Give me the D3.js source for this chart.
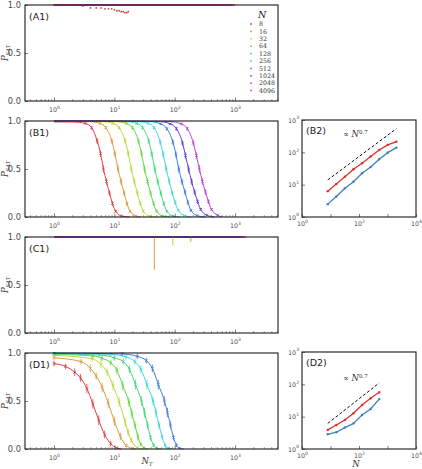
<!DOCTYPE html>
<html>
<head>
<meta charset="utf-8">
<script src="https://cdn.jsdelivr.net/npm/d3@7/dist/d3.min.js"></script>
<style>
  body { margin: 0; background: #fff; }
  svg { display: block; font-family: "DejaVu Sans", sans-serif; }
</style>
</head>
<body>
<svg id="chart" width="422" height="469"></svg>
<script>
// ---- data ----
const sizes = [8, 16, 32, 64, 128, 256, 512, 1024, 2048, 4096];

const xTicksLeft = [1, 10, 100, 1000];
const yTicksLeft = [0, 0.5, 1];
const xTicksRight = [1, 100, 10000];
const yTicksRight = [1, 10, 100, 1000];

// (A1) N=8 drops a little, every other size sits at 1
const a1N8 = [[1,1],[2,1],[3,0.99],[4,0.97],[5,0.97],[6,0.97],[7,0.96],[8,0.96],[9,0.96],
  [10,0.95],[11,0.94],[12,0.94],[13,0.93],[14,0.93],[15,0.92],[16,0.92],[17,0.93]];
const a1LastNt = [null, 30, 60, 120, 200, 300, 500, 700, 900, 1000];

// (B1) [N_T, P_SAT, error]
const b1N8    = [[1,0.99,0],[2.1,0.99,0],[3.3,0.975,0.01],[4.2,0.93,0.02],[5.2,0.79,0.03],[5.9,0.66,0.035],[6.6,0.5,0.04],[7.4,0.37,0.035],[8.3,0.25,0.03],[9.3,0.14,0.025],[10.5,0.06,0.015],[13.2,0.01,0.005],[18,0,0]];
const b1N16   = [[1,1,0],[3.6,0.995,0],[5.8,0.975,0.01],[7.2,0.93,0.02],[9.1,0.79,0.03],[10.2,0.66,0.035],[11.5,0.5,0.04],[12.9,0.37,0.035],[14.5,0.25,0.03],[16.2,0.14,0.025],[18.2,0.06,0.015],[22.9,0.01,0.005],[27.5,0,0]];
const b1N32   = [[1,1,0],[6,0.995,0],[9.5,0.975,0.01],[12,0.93,0.02],[15.1,0.79,0.03],[17,0.66,0.035],[19.1,0.5,0.04],[21.4,0.37,0.035],[24,0.25,0.03],[26.9,0.14,0.025],[30.2,0.06,0.015],[38,0.01,0.005],[50,0,0]];
const b1N64   = [[1,1,0],[10,0.995,0],[15.8,0.975,0.01],[20,0.93,0.02],[25.1,0.79,0.03],[28.2,0.66,0.035],[31.6,0.5,0.04],[35.5,0.37,0.035],[39.8,0.25,0.03],[44.7,0.14,0.025],[50.1,0.06,0.015],[63,0.01,0.005],[83,0,0]];
const b1N128  = [[1,1,0],[14.8,0.995,0],[23.4,0.975,0.01],[29.5,0.93,0.02],[37.2,0.79,0.03],[41.7,0.66,0.035],[46.8,0.5,0.04],[52.5,0.37,0.035],[58.9,0.25,0.03],[66.1,0.14,0.025],[74.1,0.06,0.015],[93.3,0.01,0.005],[123,0,0]];
const b1N256  = [[1,1,0],[22.9,0.995,0],[36.3,0.975,0.01],[45.7,0.93,0.02],[57.5,0.78,0.03],[64.6,0.65,0.035],[72.4,0.5,0.04],[81.3,0.37,0.035],[91.2,0.25,0.03],[102,0.15,0.025],[115,0.07,0.015],[145,0.015,0.005],[190,0,0]];
const b1N512  = [[1,1,0],[37.2,0.995,0],[58.9,0.97,0.01],[74.1,0.92,0.02],[93.3,0.78,0.03],[105,0.65,0.035],[117,0.5,0.04],[132,0.37,0.035],[148,0.26,0.03],[166,0.15,0.025],[186,0.07,0.015],[234,0.015,0.005],[316,0,0]];
const b1N1024 = [[1,1,0],[53.7,0.995,0],[85.1,0.97,0.01],[107,0.92,0.02],[135,0.77,0.03],[151,0.64,0.035],[170,0.5,0.04],[191,0.37,0.035],[214,0.26,0.03],[240,0.16,0.025],[269,0.08,0.015],[339,0.02,0.005],[457,0,0]];
const b1N2048 = [[1,1,0],[81.3,0.995,0],[129,0.97,0.01],[162,0.92,0.02],[204,0.77,0.03],[229,0.64,0.035],[257,0.5,0.04],[288,0.37,0.035],[324,0.26,0.03],[363,0.16,0.025],[407,0.08,0.015],[513,0.02,0.005],[603,0,0]];
const b1Curves = [b1N8, b1N16, b1N32, b1N64, b1N128, b1N256, b1N512, b1N1024, b1N2048];

// (B2)
const b2N = [8, 16, 32, 64, 128, 256, 512, 1024, 2048];
const b2Red = [6.3, 10.5, 17.7, 30, 46, 74, 118, 170, 214];
const b2Blue = [2.5, 4.3, 7.7, 12.4, 22.5, 35, 61, 98, 140];
const b2Guide = [[8, 14], [2048, 540]];

// (C1) everything at 1, a few long error bars: [N, N_T, P_SAT, error]
const c1LastNt = [20, 40, 90, 190, 400, 700, 1000, 1300, 1500];
const c1Bars = [[16, 46, 0.99, 0.33], [32, 93, 0.99, 0.08], [64, 185, 0.99, 0.04]];

// (D1) [N_T, P_SAT, error]
const d1N8   = [[1,0.89,0.03],[1.55,0.86,0.03],[2.2,0.8,0.04],[2.75,0.74,0.04],[3.5,0.63,0.05],[4.4,0.47,0.05],[5.5,0.3,0.05],[6.9,0.15,0.04],[8.7,0.055,0.03],[11,0.012,0.01],[13,0,0]];
const d1N16  = [[1,0.95,0.02],[2.8,0.91,0.03],[4,0.84,0.04],[5,0.76,0.04],[6.3,0.64,0.05],[7.9,0.48,0.05],[10,0.29,0.05],[12.6,0.13,0.04],[15.8,0.035,0.02],[20,0.005,0.005],[23,0,0]];
const d1N32  = [[1,0.975,0.015],[4.3,0.94,0.03],[6,0.88,0.04],[7.6,0.8,0.04],[9.5,0.66,0.05],[12,0.49,0.05],[15.1,0.28,0.05],[17,0.17,0.04],[19.1,0.09,0.03],[24,0.015,0.01],[28.8,0,0]];
const d1N64  = [[1,0.985,0.01],[4.4,0.97,0.02],[6.2,0.945,0.03],[8.7,0.9,0.03],[11,0.82,0.04],[13.8,0.66,0.05],[17.4,0.49,0.05],[19.5,0.37,0.05],[21.9,0.25,0.04],[24.5,0.13,0.04],[27.5,0.05,0.02],[30.9,0.012,0.01],[37.2,0,0]];
const d1N128 = [[1,0.99,0.01],[5.6,0.98,0.02],[10,0.95,0.03],[14.1,0.91,0.03],[17.8,0.83,0.04],[22.4,0.67,0.05],[28.2,0.5,0.05],[31.6,0.38,0.05],[35.5,0.25,0.04],[39.8,0.12,0.03],[44.7,0.04,0.02],[50,0.01,0.01],[59,0,0]];
const d1N256 = [[1,0.995,0.01],[8.7,0.985,0.02],[15.5,0.96,0.03],[21.9,0.91,0.03],[27.5,0.83,0.04],[34.7,0.67,0.05],[43.7,0.5,0.05],[49,0.38,0.05],[55,0.25,0.04],[61.7,0.13,0.03],[69.2,0.04,0.02],[77.6,0.01,0.01],[91,0,0]];
const d1N512 = [[1,1,0.005],[13.5,0.99,0.02],[24,0.965,0.03],[33.9,0.92,0.03],[42.7,0.84,0.04],[53.7,0.67,0.05],[67.6,0.5,0.05],[75.9,0.38,0.05],[85.1,0.25,0.04],[95.5,0.12,0.03],[107,0.04,0.02],[120,0.01,0.01],[141,0,0]];
const d1Curves = [d1N8, d1N16, d1N32, d1N64, d1N128, d1N256, d1N512];

// (D2)
const d2N = [8, 16, 32, 64, 128, 256, 512];
const d2Red = [3.9, 5.5, 7.9, 12.7, 23, 37, 57];
const d2Blue = [2.85, 3.3, 4.6, 6.2, 11.3, 17.3, 35];
const d2Guide = [[8, 6.2], [512, 110]];

// ---- layout ----
const svg = d3.select('#chart');
const leftX = 25, leftW = 253, leftH = 96;
const leftTops = [5, 121, 237, 353];
const rightX = 302, rightW = 114, rightH = 97;
const rightTops = [120, 352];

const color = i => d3.hsl(36 * i, 0.66, 0.55).toString();
const tickGrey = '#4a4a4a';

const xL = d3.scaleLog().domain([0.33, 5160]).range([0, leftW]);
const yL = d3.scaleLinear().domain([0, 1]).range([leftH, 0]);
const xR = d3.scaleLog().domain([1, 1e4]).range([0, rightW]);
const yR = d3.scaleLog().domain([1, 1e3]).range([rightH, 0]);

function minorTicks(scale) {
  const [a, b] = scale.domain();
  const out = [];
  for (let e = Math.floor(Math.log10(a)); e <= Math.ceil(Math.log10(b)); e++) {
    for (let k = 2; k <= 9; k++) {
      const v = k * Math.pow(10, e);
      if (v >= a && v <= b) out.push(v);
    }
  }
  return out;
}

function powerLabel(sel, size) {
  sel.each(function(d) {
    const t = d3.select(this);
    t.text(null);
    t.append('tspan').text('10');
    t.append('tspan').attr('dy', -size * 0.5).attr('font-size', size * 0.72)
      .text(Math.round(Math.log10(d)));
  });
}

let clipId = 0;
function panel(x0, y0, w, h) {
  const g = svg.append('g').attr('transform', `translate(${x0},${y0})`);
  const id = 'clip' + (clipId++);
  g.append('clipPath').attr('id', id)
    .append('rect').attr('x', 0).attr('y', -1).attr('width', w).attr('height', h + 2);
  const plot = g.append('g').attr('clip-path', `url(#${id})`);
  return { g, plot };
}

function frame(g, w, h) {
  g.append('rect').attr('width', w).attr('height', h)
    .attr('fill', 'none').attr('stroke', '#1a1a1a').attr('stroke-width', 1.1);
}

function leftAxes(g, label, showXTitle) {
  const minor = g.append('g').attr('transform', `translate(0,${leftH})`)
    .call(d3.axisBottom(xL).tickValues(minorTicks(xL)).tickSize(-2).tickFormat(''));
  minor.select('.domain').remove();
  minor.selectAll('line').attr('stroke', '#666').attr('stroke-width', 0.6);

  const ax = g.append('g').attr('transform', `translate(0,${leftH})`)
    .call(d3.axisBottom(xL).tickValues(xTicksLeft).tickSize(-3.5).tickPadding(7));
  ax.select('.domain').remove();
  ax.selectAll('line').attr('stroke', '#444').attr('stroke-width', 0.7);
  ax.selectAll('text').attr('fill', tickGrey).attr('font-size', 6.3)
    .attr('font-family', '"DejaVu Sans", sans-serif').call(powerLabel, 6.3);

  const ay = g.append('g')
    .call(d3.axisLeft(yL).tickValues(yTicksLeft).tickSize(-3).tickPadding(4)
      .tickFormat(d3.format('.1f')));
  ay.select('.domain').remove();
  ay.selectAll('line').attr('stroke', '#444').attr('stroke-width', 0.7);
  ay.selectAll('text').attr('fill', tickGrey).attr('font-size', 8.3)
    .attr('font-family', '"DejaVu Sans", sans-serif');

  frame(g, leftW, leftH);

  g.append('text').attr('x', 4).attr('y', 15).attr('font-size', 9.5).attr('fill', '#222')
    .text(label);

  const yt = g.append('text')
    .attr('transform', `translate(${-17},${leftH / 2}) rotate(-90)`)
    .attr('text-anchor', 'middle').attr('font-family', '"DejaVu Serif", serif')
    .attr('font-style', 'italic').attr('font-size', 8.5).attr('fill', '#333');
  yt.append('tspan').text('P');
  yt.append('tspan').attr('dy', 2).attr('font-size', 5.2).text('SAT');

  if (showXTitle) {
    const xt = g.append('text').attr('x', 122).attr('y', leftH + 15)
      .attr('text-anchor', 'middle').attr('font-family', '"DejaVu Serif", serif')
      .attr('font-style', 'italic').attr('font-size', 8.5).attr('fill', '#333');
    xt.append('tspan').text('N');
    xt.append('tspan').attr('dy', 1.5).attr('font-size', 5.2).text('T');
  }
}

function rightAxes(g, label, showXTitle) {
  const ax = g.append('g').attr('transform', `translate(0,${rightH})`)
    .call(d3.axisBottom(xR).tickValues([1, 10, 100, 1000, 10000]).tickSize(-3).tickPadding(5));
  ax.select('.domain').remove();
  ax.selectAll('line').attr('stroke', '#444').attr('stroke-width', 0.7);
  ax.selectAll('text').attr('fill', tickGrey).attr('font-size', 6.3)
    .attr('font-family', '"DejaVu Sans", sans-serif')
    .filter(d => !xTicksRight.includes(d)).remove();
  ax.selectAll('text').call(powerLabel, 6.3);

  const ay = g.append('g')
    .call(d3.axisLeft(yR).tickValues(yTicksRight).tickSize(-3).tickPadding(3));
  ay.select('.domain').remove();
  ay.selectAll('line').attr('stroke', '#444').attr('stroke-width', 0.7);
  ay.selectAll('text').attr('fill', tickGrey).attr('font-size', 6.3)
    .attr('font-family', '"DejaVu Sans", sans-serif').call(powerLabel, 6.3);

  frame(g, rightW, rightH);

  g.append('text').attr('x', 4).attr('y', 14).attr('font-size', 9.5).attr('fill', '#222')
    .text(label);

  if (showXTitle) {
    g.append('text').attr('x', 54).attr('y', rightH + 18).attr('text-anchor', 'middle')
      .attr('font-family', '"DejaVu Serif", serif').attr('font-style', 'italic')
      .attr('font-size', 8.5).attr('fill', '#333').text('N');
  }
}

const leftLine = d3.line().x(d => xL(d[0])).y(d => yL(d[1])).curve(d3.curveMonotoneX);
const rightLine = d3.line().x(d => xR(d[0])).y(d => yR(d[1]));

function drawSweep(plot, curves) {
  curves.forEach((pts, i) => {
    const c = color(i);
    plot.append('path').datum(pts).attr('d', leftLine)
      .attr('fill', 'none').attr('stroke', c).attr('stroke-width', 1);
    const marks = plot.append('g').selectAll('g')
      .data(pts.filter(p => p[2] > 0)).join('g')
      .attr('transform', d => `translate(${xL(d[0])},0)`);
    marks.append('line')
      .attr('y1', d => yL(d[1] - d[2])).attr('y2', d => yL(d[1] + d[2]))
      .attr('stroke', c).attr('stroke-width', 0.8);
    marks.append('path')
      .attr('transform', d => `translate(0,${yL(d[1])})`)
      .attr('d', 'M-1.3,-1.3L1.3,1.3M-1.3,1.3L1.3,-1.3')
      .attr('stroke', c).attr('stroke-width', 0.8);
  });
}

function drawScaling(plot, ns, red, blue, guide) {
  plot.append('path').datum(guide).attr('d', rightLine)
    .attr('fill', 'none').attr('stroke', '#111').attr('stroke-width', 1)
    .attr('stroke-dasharray', '3,2');
  [[red, '#d9302c'], [blue, '#3a80c2']].forEach(([vals, c]) => {
    const pts = ns.map((n, i) => [n, vals[i]]);
    plot.append('path').datum(pts).attr('d', rightLine)
      .attr('fill', 'none').attr('stroke', c).attr('stroke-width', 1.3);
    plot.append('g').selectAll('circle').data(pts).join('circle')
      .attr('cx', d => xR(d[0])).attr('cy', d => yR(d[1])).attr('r', 1.2).attr('fill', c);
  });
}

function propLabel(g, x, y) {
  const t = g.append('text').attr('x', x).attr('y', y)
    .attr('font-family', '"DejaVu Serif", serif').attr('font-size', 8.5).attr('fill', '#333');
  t.append('tspan').text('\u221D ');
  t.append('tspan').attr('font-style', 'italic').text('N');
  t.append('tspan').attr('dy', -3).attr('font-size', 5.5).text('0.7');
}

// (A1)
{
  const { g, plot } = panel(leftX, leftTops[0], leftW, leftH);
  sizes.forEach((n, i) => {
    if (a1LastNt[i] == null) return;
    plot.append('path').datum([[1, 1], [a1LastNt[i], 1]]).attr('d', leftLine)
      .attr('stroke', color(i)).attr('stroke-width', 1.6).attr('fill', 'none');
  });
  plot.append('g').selectAll('circle').data(a1N8).join('circle')
    .attr('cx', d => xL(d[0])).attr('cy', d => yL(d[1])).attr('r', 0.9).attr('fill', color(0));
  leftAxes(g, '(A1)', false);

  const lg = g.append('g').attr('transform', `translate(226,0)`);
  lg.append('text').attr('x', 7).attr('y', 13).attr('font-family', '"DejaVu Serif", serif')
    .attr('font-style', 'italic').attr('font-size', 9.5).attr('fill', '#222').text('N');
  const rows = lg.selectAll('g.row').data(sizes).join('g').attr('class', 'row')
    .attr('transform', (d, i) => `translate(0,${19 + i * 7.4})`);
  rows.append('circle').attr('cx', 0).attr('cy', 0).attr('r', 0.9).attr('fill', (d, i) => color(i));
  rows.append('text').attr('x', 8).attr('y', 2.2).attr('font-family', '"DejaVu Serif", serif')
    .attr('font-size', 6.3).attr('fill', '#333').text(d => d);
}

// (B1)
{
  const { g, plot } = panel(leftX, leftTops[1], leftW, leftH);
  drawSweep(plot, b1Curves);
  leftAxes(g, '(B1)', false);
}

// (B2)
{
  const { g, plot } = panel(rightX, rightTops[0], rightW, rightH);
  drawScaling(plot, b2N, b2Red, b2Blue, b2Guide);
  rightAxes(g, '(B2)', false);
  propLabel(g, 41, 17);
}

// (C1)
{
  const { g, plot } = panel(leftX, leftTops[2], leftW, leftH);
  c1LastNt.forEach((end, i) => {
    plot.append('path').datum([[1, 1], [end, 1]]).attr('d', leftLine)
      .attr('stroke', color(i)).attr('stroke-width', 1.6).attr('fill', 'none');
  });
  plot.append('g').selectAll('line').data(c1Bars).join('line')
    .attr('x1', d => xL(d[1])).attr('x2', d => xL(d[1]))
    .attr('y1', d => yL(d[2] - d[3])).attr('y2', d => yL(d[2] + d[3]))
    .attr('stroke', d => color(sizes.indexOf(d[0]))).attr('stroke-width', 1);
  leftAxes(g, '(C1)', false);
}

// (D1)
{
  const { g, plot } = panel(leftX, leftTops[3], leftW, leftH);
  drawSweep(plot, d1Curves);
  leftAxes(g, '(D1)', true);
}

// (D2)
{
  const { g, plot } = panel(rightX, rightTops[1], rightW, rightH);
  drawScaling(plot, d2N, d2Red, d2Blue, d2Guide);
  rightAxes(g, '(D2)', true);
  propLabel(g, 41, 29);
}
</script>
</body>
</html>
